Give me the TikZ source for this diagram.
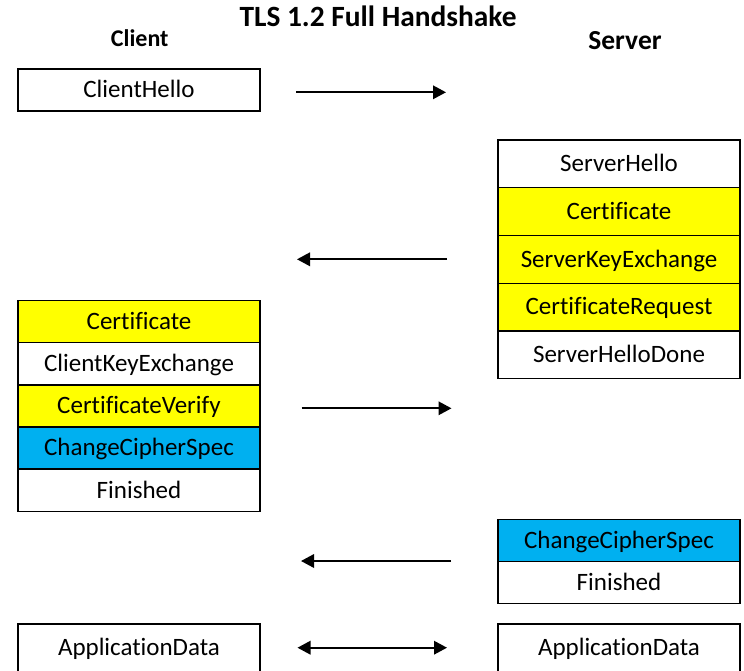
\documentclass[tikz,border=0pt]{standalone}
\usepackage{fontspec}
\setmainfont{Carlito}[Ligatures={NoCommon}]
\usetikzlibrary{arrows.meta}
\definecolor{msgyellow}{HTML}{FFFF00}
\definecolor{msgblue}{HTML}{00B0F0}
\begin{document}
\begin{tikzpicture}[x=1pt,y=-1pt,
  msg/.style={draw=black, line width=1.3pt, minimum width=242pt, inner sep=0pt,
    font=\fontsize{25}{30}\selectfont, text height=15.8pt, text depth=0pt},
  row/.style={msg, minimum height=42.1pt},
  tallrow/.style={msg, minimum height=47.7pt},
  yel/.style={fill=msgyellow},
  blu/.style={fill=msgblue},
  wht/.style={fill=white},
  flow/.style={line width=1.8pt, -{Triangle[length=13pt,width=13.5pt]}},
  both/.style={line width=1.8pt, {Triangle[length=13pt,width=13.5pt]}-{Triangle[length=13pt,width=13.5pt]}},
  heading/.style={anchor=base, font=\bfseries\fontsize{24}{28}\selectfont}
]
\useasboundingbox (0,0) rectangle (744,670);
\clip (0,0) rectangle (744,670);

% headings
\node[heading, font=\bfseries\fontsize{29.4}{34}\selectfont] (title) at (378,26.7) {TLS 1.2 Full Handshake};
\node[heading] (client) at (139.7,46.7) {Client};
\node[heading, font=\bfseries\fontsize{27.5}{32}\selectfont] (server) at (625,49) {Server};

% client side
\node[row, wht] (chello) at (139,90) {ClientHello};
\node[row, yel] (ccert) at (139,321.7) {Certificate};
\node[row, wht] (ckex)  at (139,363.8) {ClientKeyExchange};
\node[row, yel] (cver)  at (139,405.9) {CertificateVerify};
\node[row, blu] (cccs)  at (139,448.0) {ChangeCipherSpec};
\node[row, wht] (cfin)  at (139,490.1) {Finished};
\node[msg, wht, minimum height=48pt] (capp) at (139,648) {ApplicationData};

% server side
\node[tallrow, wht] (shello) at (619,163.9) {ServerHello};
\node[tallrow, yel] (scert)  at (619,211.6) {Certificate};
\node[tallrow, yel] (skex)   at (619,259.3) {ServerKeyExchange};
\node[tallrow, yel] (sreq)   at (619,307.0) {CertificateRequest};
\node[tallrow, wht] (sdone)  at (619,354.7) {ServerHelloDone};
\node[row, blu] (sccs) at (619,540.4) {ChangeCipherSpec};
\node[row, wht] (sfin) at (619,582.5) {Finished};
\node[msg, wht, minimum height=48pt] (sapp) at (619,648) {ApplicationData};

% message flights
\coordinate (a1s) at (296,92.3);   \coordinate (a1e) at (446,92.3);
\coordinate (a2s) at (447,259.3);  \coordinate (a2e) at (297,259.3);
\coordinate (a3s) at (301.5,408.3);\coordinate (a3e) at (451.5,408.3);
\coordinate (a4s) at (451,561);    \coordinate (a4e) at (301,561);
\coordinate (a5s) at (297.5,647.7);\coordinate (a5e) at (447,647.7);
\draw[flow] (a1s) -- (a1e);
\draw[flow] (a2s) -- (a2e);
\draw[flow] (a3s) -- (a3e);
\draw[flow] (a4s) -- (a4e);
\draw[both] (a5s) -- (a5e);
\end{tikzpicture}
\end{document}
